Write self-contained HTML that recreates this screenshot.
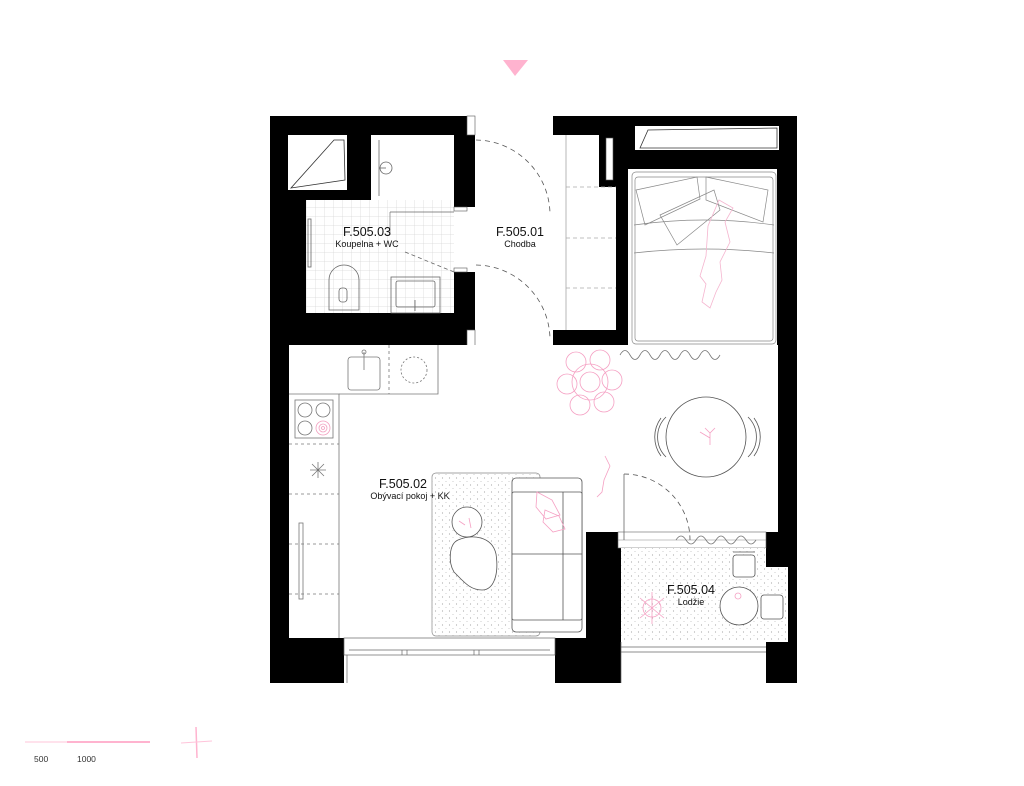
<!DOCTYPE html>
<html><head><meta charset="utf-8"><style>
html,body{margin:0;padding:0;background:#fff;}
svg{display:block;}
text{font-family:"Liberation Sans",sans-serif;}
</style></head><body>
<svg width="1024" height="786" viewBox="0 0 1024 786" xmlns="http://www.w3.org/2000/svg">
<defs>
<pattern id="tile" width="9" height="9" patternUnits="userSpaceOnUse"><path d="M9 0H0V9" fill="none" stroke="#d8d8d8" stroke-width="0.8"/></pattern>
<pattern id="dots" width="7" height="7" patternUnits="userSpaceOnUse"><circle cx="1.5" cy="2" r="0.6" fill="#aaa"/><circle cx="5" cy="5.5" r="0.5" fill="#bbb"/></pattern>
</defs>
<rect width="1024" height="786" fill="#fff"/>
<polygon points="503,60 528,60 515,76" fill="#ffb3cf"/>

<rect x="270" y="116" width="527" height="567" fill="#000"/>
<rect x="475" y="116" width="78" height="230" fill="#fff"/>
<rect x="288" y="135" width="59" height="55" fill="#fff"/>
<polygon points="291,188 345,180 344,140 334,140" fill="none" stroke="#333" stroke-width="0.8"/>
<rect x="371" y="135" width="83" height="65" fill="#fff"/>
<rect x="306" y="200" width="148" height="113" fill="#fff"/>
<rect x="306" y="200" width="148" height="113" fill="url(#tile)"/>
<rect x="454" y="207" width="21" height="65" fill="#fff"/>
<rect x="467" y="116" width="8" height="19" fill="#fff" stroke="#555" stroke-width="0.6"/>
<rect x="467" y="330" width="8" height="16" fill="#fff" stroke="#555" stroke-width="0.6"/>
<rect x="454" y="207" width="13" height="4" fill="#fff" stroke="#555" stroke-width="0.6"/>
<rect x="454" y="268" width="13" height="4" fill="#fff" stroke="#555" stroke-width="0.6"/>
<rect x="553" y="135" width="46" height="195" fill="#fff"/>
<rect x="599" y="187" width="17" height="143" fill="#fff"/>
<rect x="606" y="138" width="7" height="42" fill="#fff" stroke="#555" stroke-width="0.6"/>
<line x1="566" y1="135" x2="566" y2="330" stroke="#999" stroke-width="0.7"/>
<g stroke="#aaa" stroke-width="0.7" stroke-dasharray="4,3"><line x1="566" y1="187" x2="616" y2="187"/><line x1="566" y1="238" x2="616" y2="238"/><line x1="566" y1="288" x2="616" y2="288"/></g>
<rect x="635" y="126" width="144" height="24" fill="#fff"/>
<polygon points="640,148 648,130 777,128 777,148" fill="none" stroke="#333" stroke-width="0.8"/>
<rect x="628" y="169" width="149" height="177" fill="#fff"/>
<rect x="289" y="345" width="489" height="187" fill="#fff"/>
<rect x="289" y="530" width="297" height="108" fill="#fff"/>
<rect x="618" y="532" width="148" height="16" fill="#fff" stroke="#666" stroke-width="0.6"/>
<line x1="618" y1="540" x2="766" y2="540" stroke="#888" stroke-width="0.6"/>
<rect x="621" y="548" width="145" height="94" fill="#fff"/>
<rect x="766" y="567" width="22" height="75" fill="#fff"/>
<rect x="621" y="548" width="145" height="94" fill="url(#dots)"/>
<rect x="766" y="567" width="22" height="75" fill="url(#dots)"/>
<rect x="621" y="642" width="145" height="41" fill="#fff"/>
<g stroke="#666" stroke-width="0.7"><line x1="621" y1="647" x2="766" y2="647"/><line x1="621" y1="652" x2="766" y2="652"/><line x1="621" y1="642" x2="621" y2="683"/></g>
<rect x="344" y="638" width="211" height="45" fill="#fff"/>
<g stroke="#666" stroke-width="0.7" fill="none"><rect x="344" y="638" width="211" height="17"/><line x1="349" y1="650" x2="550" y2="650"/><line x1="402" y1="650" x2="402" y2="655"/><line x1="407" y1="650" x2="407" y2="655"/><line x1="474" y1="650" x2="474" y2="655"/><line x1="479" y1="650" x2="479" y2="655"/><line x1="347" y1="655" x2="347" y2="683"/></g>

<g fill="none" stroke="#777" stroke-width="0.8">
<polyline points="289,394 339,394 339,638"/>
<polyline points="339,394 438,394 438,345"/>
<rect x="348" y="357" width="32" height="33" rx="3"/>
<line x1="364" y1="352" x2="364" y2="370"/><circle cx="364" cy="352" r="2"/>
<line x1="389" y1="345" x2="389" y2="394" stroke-dasharray="3,3"/>
<circle cx="414" cy="370" r="13" stroke-dasharray="2,2"/>
<rect x="295" y="400" width="38" height="38"/>
<circle cx="305" cy="410" r="7"/><circle cx="323" cy="410" r="7"/><circle cx="305" cy="428" r="7"/>
<line x1="289" y1="444" x2="339" y2="444" stroke-dasharray="3,3"/>
<line x1="289" y1="494" x2="339" y2="494" stroke-dasharray="3,3"/>
<line x1="289" y1="544" x2="339" y2="544" stroke-dasharray="3,3"/>
<line x1="289" y1="594" x2="339" y2="594" stroke-dasharray="3,3"/>
<path d="M310 470h16M318 462v16M312 464l12 12M324 464l-12 12"/>
<rect x="299" y="523" width="4" height="76"/>
</g>
<g fill="none" stroke="#f2a0c0" stroke-width="0.8"><circle cx="323" cy="428" r="7"/><circle cx="323" cy="428" r="4"/><circle cx="323" cy="428" r="1.5"/></g>

<g fill="none" stroke="#666" stroke-width="0.8">
<line x1="379" y1="140" x2="379" y2="196"/><circle cx="386" cy="168" r="6"/><line x1="379" y1="168" x2="386" y2="168"/>
<rect x="308" y="219" width="3" height="48"/>
<path d="M329 310v-30a15 15 0 0 1 30 0v30z"/><rect x="339" y="288" width="8" height="14" rx="3"/>
<rect x="391" y="277" width="49" height="36"/><rect x="396" y="281" width="39" height="26" rx="2"/>
<line x1="415" y1="300" x2="415" y2="311"/>
<line x1="390" y1="212" x2="390" y2="235" stroke="#888"/><line x1="390" y1="212" x2="454" y2="212"/>
<line x1="405" y1="252" x2="454" y2="272" stroke-dasharray="4,3"/>
</g>
<g fill="none" stroke="#555" stroke-width="0.8" stroke-dasharray="5,4">
<path d="M476 140 A75 75 0 0 1 550 214"/>
<path d="M476 265 A75 75 0 0 1 550 340"/>
<path d="M624 474 A66 66 0 0 1 690 540"/>
</g>
<line x1="624" y1="474" x2="624" y2="540" stroke="#666" stroke-width="0.8"/>

<g fill="none" stroke="#888" stroke-width="0.7">
<rect x="632" y="172" width="144" height="172" rx="4"/>
<rect x="635" y="177" width="138" height="164" rx="3"/>
<polygon points="636,190 697,177 700,199 645,225"/>
<polygon points="706,177 768,190 763,222 706,200"/>
<polygon points="660,215 714,190 720,210 677,245"/>
<path d="M634 225q70 -10 140 0M634 253q70 -8 140 0"/>
</g>
<path d="M719 200l14 8-8 14 5 20-10 20 2 18-6 12-6 16-8-6 4-18-6-8 6-20 2-30z" fill="none" stroke="#f5b5cf" stroke-width="0.8"/>
<path d="M620 355 q5 -9 10 0 q5 9 10 0 q5 -9 10 0 q5 9 10 0 q5 -9 10 0 q5 9 10 0 q5 -9 10 0 q5 9 10 0 q5 -9 10 0 q5 9 10 0" fill="none" stroke="#777" stroke-width="0.8"/>
<path d="M676 540 q5 -8 10 0 q5 8 10 0 q5 -8 10 0 q5 8 10 0 q5 -8 10 0 q5 8 10 0 q5 -8 10 0 q5 8 10 0" fill="none" stroke="#777" stroke-width="0.8"/>
<g fill="none" stroke="#f5a0c3" stroke-width="0.8">
<circle cx="590" cy="382" r="18"/><circle cx="590" cy="382" r="10"/>
<circle cx="576" cy="362" r="10"/><circle cx="600" cy="360" r="10"/><circle cx="612" cy="380" r="10"/><circle cx="604" cy="402" r="10"/><circle cx="580" cy="405" r="10"/><circle cx="567" cy="384" r="10"/>
<path d="M705 428l5 5 5-5M710 433v12M700 432l10 6"/>
<path d="M605 456l5 10-6 14-2 12-5 5" />
</g>
<g fill="none" stroke="#555" stroke-width="0.8">
<circle cx="706" cy="437" r="40"/>
<path d="M666 417a28 28 0 0 0 0 40M661 418a32 32 0 0 0 0 38"/>
<path d="M748 417a28 28 0 0 1 0 40M754 418a32 32 0 0 1 0 38"/>
</g>
<rect x="432" y="473" width="108" height="163" rx="4" fill="url(#dots)" stroke="#888" stroke-width="0.7"/>
<g fill="#fff" stroke="#555" stroke-width="0.8">
<rect x="512" y="478" width="70" height="154" rx="4"/>
<rect x="512" y="492" width="70" height="128" rx="2"/>
<line x1="563" y1="492" x2="563" y2="620"/>
<line x1="512" y1="554" x2="582" y2="554"/>
<circle cx="467" cy="522" r="15"/>
<path d="M458 540c14-6 34-4 38 14 3 20-2 36-14 36-12 0-18-8-28-18-6-10-5-28 4-32z"/>
</g>
<g fill="none" stroke="#f5a0c3" stroke-width="0.8"><path d="M537 492l15 8 8 15-14 4-10-12zM545 510l14 6 6 13-12 3-10-10z"/><path d="M459 521l6 4M469 518l2 10"/></g>
<g fill="#fff" stroke="#555" stroke-width="0.8">
<circle cx="739" cy="606" r="19"/>
<rect x="733" y="555" width="22" height="22" rx="3"/>
<rect x="761" y="595" width="22" height="24" rx="3"/>
<line x1="733" y1="552" x2="755" y2="552"/>
</g>
<g fill="none" stroke="#f5a0c3" stroke-width="0.8"><circle cx="652" cy="608" r="9"/><path d="M640 598l24 20M664 598l-24 20M652 592v32"/><circle cx="738" cy="596" r="3"/></g>

<g fill="#111">
<text x="367" y="236" font-size="12.5" text-anchor="middle">F.505.03</text>
<text x="367" y="247" font-size="9" text-anchor="middle">Koupelna + WC</text>
<text x="520" y="236" font-size="12.5" text-anchor="middle">F.505.01</text>
<text x="520" y="247" font-size="9" text-anchor="middle">Chodba</text>
<text x="403" y="488" font-size="12.5" text-anchor="middle">F.505.02</text>
<text x="410" y="499" font-size="9" text-anchor="middle">Obývací pokoj + KK</text>
<text x="691" y="594" font-size="12.5" text-anchor="middle">F.505.04</text>
<text x="691" y="605" font-size="9" text-anchor="middle">Lodžie</text>
</g>

<line x1="25" y1="742" x2="67" y2="742" stroke="#ffc4da" stroke-width="1"/>
<line x1="67" y1="742" x2="150" y2="742" stroke="#ffb3cf" stroke-width="2"/>
<text x="34" y="762" font-size="8.5" fill="#333">500</text>
<text x="77" y="762" font-size="8.5" fill="#333">1000</text>
<line x1="196" y1="727" x2="197" y2="758" stroke="#ffb3cf" stroke-width="1.5"/>
<line x1="181" y1="743" x2="212" y2="741" stroke="#ffc4da" stroke-width="1"/>
</svg>
</body></html>
